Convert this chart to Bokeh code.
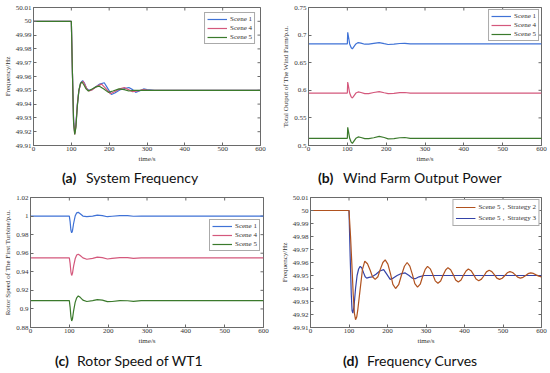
import math
from bokeh.plotting import figure
from bokeh.models import Range1d, FixedTicker, PrintfTickFormatter, Legend, LegendItem, Div
from bokeh.layouts import column, row
from bokeh.embed import file_html
from bokeh.resources import INLINE

# ---------------- data ----------------
X_TICKS = [0, 100, 200, 300, 400, 500, 600]
FREQ_TICKS = [49.91, 49.92, 49.93, 49.94, 49.95, 49.96, 49.97, 49.98, 49.99, 50, 50.01]
POWER_TICKS = [0.5, 0.55, 0.6, 0.65, 0.7, 0.75]
SPEED_TICKS = [0.88, 0.9, 0.92, 0.94, 0.96, 0.98, 1, 1.02]

SCENES = ["Scene 1", "Scene 4", "Scene 5"]
STRATEGIES = ["Scene 5，Strategy 2", "Scene 5，Strategy 3"]
CAPTIONS = [("(a)", "System Frequency"), ("(b)", "Wind Farm Output Power"),
            ("(c)", "Rotor Speed of WT1"), ("(d)", "Frequency Curves")]

# (a) system frequency
A1_T = [0, 100, 103, 106, 109, 112, 116, 120, 125, 130, 135, 140, 146, 155, 165, 175, 187, 197, 206, 215, 230, 252, 262, 270, 280, 291, 300, 320, 600]
A1_V = [50, 50, 49.962, 49.928, 49.919, 49.925, 49.940, 49.950, 49.9555, 49.957, 49.955, 49.9515, 49.950, 49.9505, 49.9525, 49.9545, 49.9555, 49.951, 49.947, 49.948, 49.9505, 49.952, 49.9505, 49.9485, 49.9495, 49.951, 49.9505, 49.950, 49.950]
A4_T = [0, 100, 103, 106, 109, 112, 116, 120, 125, 131, 136, 141, 147, 156, 168, 180, 192, 203, 214, 228, 240, 251, 262, 275, 290, 305, 600]
A4_V = [50, 50, 49.962, 49.927, 49.918, 49.924, 49.940, 49.950, 49.955, 49.9565, 49.954, 49.951, 49.9495, 49.9505, 49.953, 49.9545, 49.951, 49.9475, 49.949, 49.951, 49.952, 49.9505, 49.949, 49.9495, 49.9505, 49.950, 49.950]
A5_T = [0, 100, 103, 106, 109, 112, 116, 120, 124, 128, 133, 139, 145, 155, 165, 174, 186, 198, 210, 226, 240, 252, 265, 280, 600]
A5_V = [50, 50, 49.961, 49.926, 49.918, 49.923, 49.939, 49.950, 49.955, 49.956, 49.954, 49.951, 49.9495, 49.951, 49.9525, 49.953, 49.951, 49.9485, 49.9495, 49.951, 49.9505, 49.9495, 49.950, 49.950, 49.950]

# (b) wind farm output power
B_T = [0, 100, 101, 103, 106, 110, 113, 117, 122, 128, 135, 145, 155, 168, 182, 195, 205, 220, 235, 248, 262, 280, 600]
B1_V = [0.684, 0.684, 0.705, 0.697, 0.684, 0.677, 0.675, 0.679, 0.684, 0.6865, 0.6855, 0.6835, 0.6835, 0.685, 0.6865, 0.6845, 0.683, 0.6835, 0.6848, 0.685, 0.684, 0.684, 0.684]
B4_V = [0.595, 0.595, 0.615, 0.607, 0.595, 0.588, 0.586, 0.590, 0.595, 0.597, 0.596, 0.594, 0.594, 0.596, 0.5975, 0.5955, 0.594, 0.5945, 0.5958, 0.596, 0.595, 0.595, 0.595]
B5_V = [0.513, 0.513, 0.533, 0.525, 0.513, 0.506, 0.504, 0.508, 0.513, 0.5155, 0.5145, 0.5125, 0.5125, 0.514, 0.5165, 0.5145, 0.512, 0.5125, 0.514, 0.5145, 0.513, 0.513, 0.513]

# (c) rotor speed of WT1
C_T = [0, 100, 102, 104, 106, 108, 111, 115, 119, 123, 128, 135, 145, 160, 172, 185, 198, 210, 230, 250, 265, 285, 600]
C1_V = [1.0, 1.0, 0.994, 0.985, 0.982, 0.984, 0.992, 1.0, 1.0035, 1.004, 1.0025, 1.0, 0.9995, 1.0, 1.001, 1.0005, 0.9993, 0.9998, 1.0005, 1.0005, 0.9998, 1.0, 1.0]
C4_V = [0.955, 0.955, 0.949, 0.940, 0.936, 0.938, 0.946, 0.954, 0.958, 0.959, 0.9575, 0.955, 0.9535, 0.9545, 0.9558, 0.9552, 0.9538, 0.9545, 0.9553, 0.9552, 0.9545, 0.955, 0.955]
C5_V = [0.909, 0.909, 0.902, 0.892, 0.887, 0.889, 0.898, 0.907, 0.912, 0.914, 0.9125, 0.9095, 0.908, 0.909, 0.910, 0.9095, 0.9078, 0.908, 0.909, 0.9088, 0.9082, 0.909, 0.909]

# (d) frequency curves
D2_T = [0, 100, 104, 108, 111, 114, 117, 120, 123, 129, 135, 141, 148, 155, 161, 168, 175, 181, 188, 194,
        201, 208, 214, 221, 229, 236, 244, 251, 258, 265, 271, 278, 285, 291, 298, 304, 311, 318, 324, 331,
        338, 344, 351, 357, 364, 371, 377, 384, 391, 397, 404, 410, 417, 424, 430, 437, 444, 451, 457, 464,
        471, 478, 484, 491, 498, 505, 511, 518, 525, 532, 538, 545, 552, 559, 565, 572, 579, 586, 593, 600]
D2_V = [50, 50, 49.980, 49.955, 49.935, 49.921, 49.916, 49.918, 49.924, 49.9395, 49.9547, 49.961, 49.959, 49.954, 49.949, 49.947, 49.949, 49.9545, 49.960, 49.962,
        49.9588, 49.951, 49.9432, 49.940, 49.9429, 49.950, 49.9571, 49.960, 49.9572, 49.9505, 49.9438, 49.941, 49.9433, 49.949, 49.9547, 49.957, 49.9551, 49.9505, 49.9459, 49.944,
        49.9458, 49.950, 49.9542, 49.956, 49.9544, 49.9505, 49.9466, 49.945, 49.9465, 49.950, 49.9535, 49.955, 49.9537, 49.9505, 49.9473, 49.946, 49.9472, 49.950, 49.9528, 49.954,
        49.953, 49.9505, 49.948, 49.947, 49.9479, 49.950, 49.9521, 49.953, 49.9523, 49.9505, 49.9487, 49.948, 49.9486, 49.950, 49.9514, 49.952, 49.9516, 49.9505, 49.9495, 49.949]
D3_T = [0, 100, 103, 106, 108, 110, 113, 117, 121, 125, 129, 133, 138, 142, 146, 152, 160, 170, 180, 190, 198, 207, 215, 225, 236, 246, 256, 264, 272, 282, 295, 310, 600]
D3_V = [50, 50, 49.965, 49.935, 49.923, 49.921, 49.926, 49.940, 49.950, 49.955, 49.957, 49.956, 49.952, 49.949, 49.948, 49.9485, 49.949, 49.951, 49.9535, 49.9545, 49.951, 49.947, 49.948, 49.950, 49.9515, 49.952, 49.950, 49.948, 49.9475, 49.949, 49.950, 49.950, 49.950]

# ---------------- style ----------------
AX = "#6a6a6a"
TXT = "#333333"
SERIF = "Liberation Serif"
CAP_FONT = "Lato"
C_BLUE = "#3f72d6"
C_PINK = "#d4587c"
C_GREEN = "#3b7a2c"
C_BROWN = "#b0521f"
C_NAVY = "#3443a8"


def make_fig(w, h, left, right, top, bottom, y0, y1, yticks, ylabel):
    p = figure(width=w, height=h, output_backend="svg", toolbar_location=None,
               x_range=Range1d(0, 600), y_range=Range1d(y0, y1),
               min_border_left=left, min_border_right=right,
               min_border_top=top, min_border_bottom=bottom)
    p.background_fill_color = "white"
    p.border_fill_color = "white"
    p.outline_line_color = AX
    p.outline_line_width = 1
    p.xgrid.visible = False
    p.ygrid.visible = False
    for ax in (p.xaxis[0], p.yaxis[0]):
        ax.axis_line_color = AX
        ax.major_tick_line_color = AX
        ax.major_tick_in = 3
        ax.major_tick_out = 0
        ax.minor_tick_line_color = None
        ax.major_label_text_font = SERIF
        ax.major_label_text_font_size = "7px"
        ax.major_label_text_color = TXT
        ax.axis_label_text_font = SERIF
        ax.axis_label_text_font_size = "7px"
        ax.axis_label_text_font_style = "normal"
        ax.axis_label_text_color = TXT
    p.xaxis[0].ticker = FixedTicker(ticks=X_TICKS)
    p.xaxis[0].axis_label = "time/s"
    p.xaxis[0].major_label_standoff = 1
    p.xaxis[0].axis_label_standoff = 1
    p.yaxis[0].ticker = FixedTicker(ticks=yticks)
    p.yaxis[0].formatter = PrintfTickFormatter(format="%g")
    p.yaxis[0].axis_label = ylabel
    p.yaxis[0].major_label_standoff = 2
    p.yaxis[0].axis_label_standoff = 1
    # box ticks on top and right edges
    p.scatter(x=X_TICKS, y=[y1] * len(X_TICKS), marker="dash", size=6,
              angle=math.pi / 2, line_color=AX, line_width=1)
    p.scatter(x=[600] * len(yticks), y=yticks, marker="dash", size=6,
              line_color=AX, line_width=1)
    return p


def add_legend(p, items, loc, margin=0):
    lg = Legend(items=[LegendItem(label=l, renderers=[r]) for l, r in items],
                location=loc, orientation="vertical")
    lg.label_text_font = SERIF
    lg.label_text_font_size = "7px"
    lg.label_text_color = TXT
    lg.glyph_width = 20
    lg.glyph_height = 8
    lg.label_height = 8
    lg.label_standoff = 3
    lg.spacing = 1
    lg.padding = 2
    lg.margin = margin
    lg.border_line_color = "#555555"
    lg.border_line_width = 1
    lg.background_fill_color = "white"
    lg.background_fill_alpha = 1
    p.add_layout(lg)


def caption(tag, text, x_tag, x_text, top, w, h):
    html = (f'<div style="position:relative;width:{w}px;height:{h}px;font-family:Lato;'
            f'font-size:14px;line-height:14px;color:#111;white-space:nowrap">'
            f'<span style="position:absolute;left:{x_tag}px;top:{top}px;font-weight:bold">{tag}</span>'
            f'<span style="position:absolute;left:{x_text}px;top:{top}px">{text}</span></div>')
    return Div(text=html, width=w, height=h, margin=(0, 0, 0, 0))


# (a)
pa = make_fig(275, 166, 30, 15, 7, 21, 49.91, 50.01, FREQ_TICKS, "Frequency/Hz")
ra1 = pa.line(A1_T, A1_V, line_color=C_BLUE, line_width=1.2)
ra4 = pa.line(A4_T, A4_V, line_color=C_PINK, line_width=1.2)
ra5 = pa.line(A5_T, A5_V, line_color=C_GREEN, line_width=1.2)
add_legend(pa, list(zip(SCENES, [ra1, ra4, ra5])), "top_right", 5)
da = caption(*CAPTIONS[0], 62, 86, 5, 275, 24)

# (b)
pb = make_fig(275, 166, 33, 9, 7, 21, 0.5, 0.75, POWER_TICKS, "Total Output of The Wind Farm/p.u.")
rb1 = pb.line(B_T, B1_V, line_color=C_BLUE, line_width=1.2)
rb4 = pb.line(B_T, B4_V, line_color=C_PINK, line_width=1.2)
rb5 = pb.line(B_T, B5_V, line_color=C_GREEN, line_width=1.2)
add_legend(pb, list(zip(SCENES, [rb1, rb4, rb5])), "top_right", 2)
db = caption(*CAPTIONS[1], 43, 68, 5, 275, 24)

# (c)
pc = make_fig(275, 157, 30, 12, 7, 20, 0.88, 1.02, SPEED_TICKS, "Rotor Speed of The First Turbine/p.u.")
rc1 = pc.line(C_T, C1_V, line_color=C_BLUE, line_width=1.2)
rc4 = pc.line(C_T, C4_V, line_color=C_PINK, line_width=1.2)
rc5 = pc.line(C_T, C5_V, line_color=C_GREEN, line_width=1.2)
add_legend(pc, list(zip(SCENES, [rc1, rc4, rc5])), (179, 76))
dc = caption(*CAPTIONS[2], 55, 77, 7, 275, 25)

# (d)
pd_ = make_fig(275, 157, 35, 9, 7, 17, 49.91, 50.01, FREQ_TICKS, "Frequency/Hz")
rd3 = pd_.line(D3_T, D3_V, line_color=C_NAVY, line_width=1.2)
rd2 = pd_.line(D2_T, D2_V, line_color=C_BROWN, line_width=1.2)
add_legend(pd_, list(zip(STRATEGIES, [rd2, rd3])), "top_right", 2)
dd = caption(*CAPTIONS[3], 68, 92, 7, 275, 25)

layout = column(row(column(pa, da), column(pb, db)),
                row(column(pc, dc), column(pd_, dd)))

open("out.html", "w").write(file_html(layout, INLINE))
